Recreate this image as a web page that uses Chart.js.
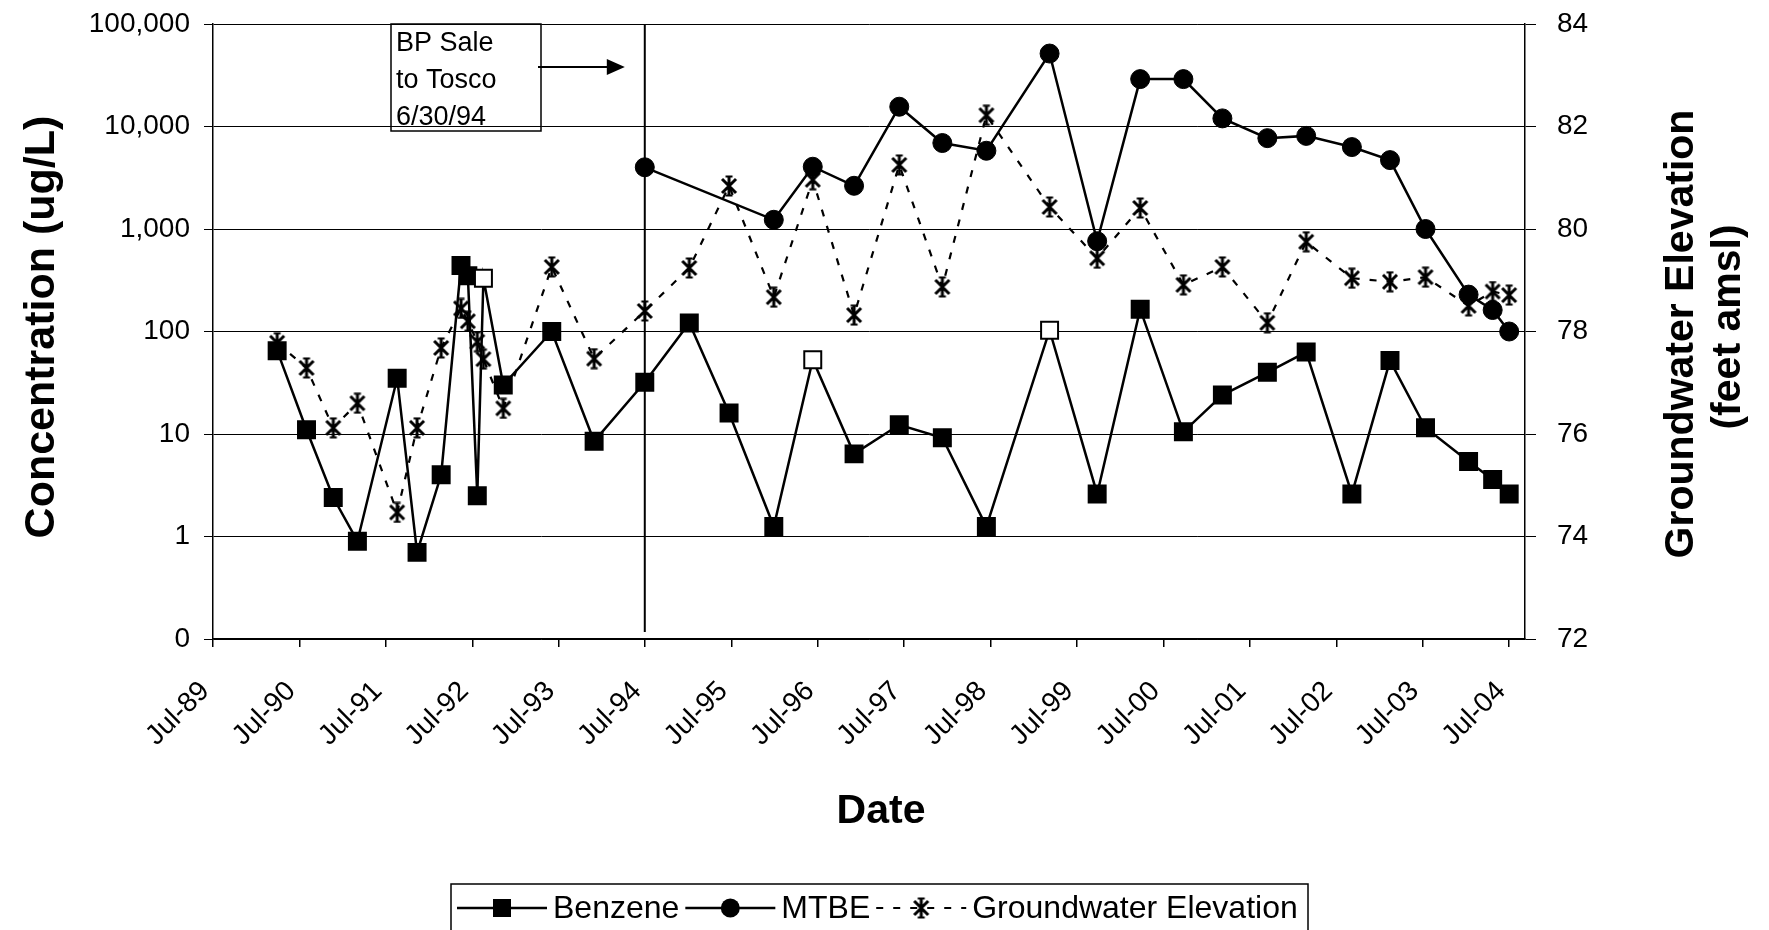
<!DOCTYPE html>
<html>
<head>
<meta charset="utf-8">
<title>Benzene, MTBE and Groundwater Elevation</title>
<script src="https://cdn.jsdelivr.net/npm/chart.js@4.4.1/dist/chart.umd.min.js"></script>
<style>
  html, body { margin: 0; padding: 0; background: #fff; }
  #wrap { width: 1769px; height: 930px; }
</style>
</head>
<body>
<div id="wrap"><canvas id="chart" width="1769" height="930"></canvas></div>
<script>
// sampling events
const sampleDates = [
    '1990-03-29', '1990-07-31', '1990-11-21', '1991-03-03', '1991-08-18', '1991-11-10',
    '1992-02-20', '1992-05-14', '1992-06-12', '1992-07-22', '1992-08-17', '1992-11-09',
    '1993-06-02', '1993-11-28', '1994-06-30', '1995-01-04', '1995-06-21', '1995-12-27',
    '1996-06-09', '1996-12-01', '1997-06-10', '1997-12-09', '1998-06-13', '1999-03-07',
    '1999-09-24', '2000-03-24', '2000-09-23', '2001-03-07', '2001-09-13', '2002-02-24',
    '2002-09-05', '2003-02-13', '2003-07-13', '2004-01-11', '2004-04-22', '2004-07-01'
];
const benzene = [
    65, 11, 2.4, 0.9, 35, 0.7, 4, 440, 350, 2.5, 330, 30,
    100, 8.5, 32, 121, 16, 1.25, 53, 6.4, 12.3, 9.2, 1.25, 103,
    2.6, 165, 10.5, 24, 40, 63, 2.6, 52, 11.5, 5.4, 3.6, 2.6
];
const benzeneHollow = [10, 18, 23]; // open squares
const mtbe = [
    null, null, null, null, null, null, null, null, null, null, null, null,
    null, null, 4000, null, null, 1230, 4050, 2640, 15600, 6900, 5800, 51500,
    760, 29000, 29000, 12000, 7700, 8100, 6300, 4700, 1000, 229, 162, 100
];
const groundwater = [
    77.78, 77.29, 76.12, 76.6, 74.47, 76.12, 77.68, 78.45, 78.2, 77.8, 77.46, 76.5,
    79.26, 77.47, 78.4, 79.24, 80.84, 78.67, 80.96, 78.32, 81.25, 78.87, 82.22, 80.43,
    79.43, 80.41, 78.91, 79.26, 78.17, 79.75, 79.04, 78.97, 79.06, 78.5, 78.78, 78.71
];

const xTickLabels = ['Jul-89', 'Jul-90', 'Jul-91', 'Jul-92', 'Jul-93', 'Jul-94', 'Jul-95', 'Jul-96',
    'Jul-97', 'Jul-98', 'Jul-99', 'Jul-00', 'Jul-01', 'Jul-02', 'Jul-03', 'Jul-04'];
const concTicks = [0.1, 1, 10, 100, 1000, 10000, 100000];
const elevTicks = [72, 74, 76, 78, 80, 82, 84];
const xStart = '1989-07-01';
const xEnd = '2004-09-06';
const saleDate = '1994-06-30';
const saleText = ['BP Sale', 'to Tosco', '6/30/94'];

const FONT = '"Liberation Sans", Arial, Helvetica, sans-serif';
const W = 1769, H = 930;
const area = {left: 213, top: 24, right: 1525, bottom: 639};
let padTop = area.top;

function toYear(s) {
    const d = new Date(s + 'T00:00:00Z');
    const y = d.getUTCFullYear();
    const a = Date.UTC(y, 0, 1), b = Date.UTC(y + 1, 0, 1);
    return y + (d - a) / (b - a);
}
function labelToYear(lbl) {
    const yy = parseInt(lbl.slice(4), 10);
    return toYear((yy > 50 ? 1900 + yy : 2000 + yy) + '-07-01');
}
function series(vals) {
    return sampleDates.map((d, i) => ({x: toYear(d), y: vals[i]})).filter(p => p.y !== null);
}

function makeStar() {
    const c = document.createElement('canvas');
    c.width = 20; c.height = 22;
    const g = c.getContext('2d');
    g.strokeStyle = '#000';
    g.lineWidth = 3;
    g.beginPath();
    g.moveTo(3, 4); g.lineTo(17, 18);
    g.moveTo(17, 4); g.lineTo(3, 18);
    g.moveTo(10, 1); g.lineTo(10, 21);
    g.stroke();
    g.lineWidth = 2;
    g.beginPath();
    g.moveTo(6.5, 1.5); g.lineTo(13.5, 1.5);
    g.moveTo(6.5, 20.5); g.lineTo(13.5, 20.5);
    g.stroke();
    return c;
}
const starImg = makeStar();

function drawMarker(ctx, type, x, y) {
    ctx.fillStyle = '#000';
    if (type === 'rect') {
        ctx.fillRect(x - 9, y - 9, 18, 18);
    } else if (type === 'circle') {
        ctx.beginPath(); ctx.arc(x, y, 9.5, 0, Math.PI * 2); ctx.fill();
    } else {
        ctx.drawImage(starImg, x - starImg.width / 2, y - starImg.height / 2);
    }
}

const decor = {
    id: 'decor',
    beforeDatasetsDraw(chart) {
        const {ctx, chartArea, scales} = chart;
        const sx = scales.x.getPixelForValue(toYear(saleDate));
        ctx.save();
        ctx.strokeStyle = '#000';
        ctx.lineWidth = 2;
        ctx.beginPath();
        ctx.moveTo(sx, chartArea.top);
        ctx.lineTo(sx, chartArea.bottom - 7);
        ctx.stroke();

        // annotation box
        const bx = chartArea.left + 178, by = chartArea.top, bw = 150, bh = 107;
        ctx.lineWidth = 1.5;
        ctx.strokeRect(bx, by, bw, bh);
        ctx.fillStyle = '#000';
        ctx.font = '27px ' + FONT;
        ctx.textAlign = 'left';
        ctx.textBaseline = 'middle';
        saleText.forEach((t, i) => ctx.fillText(t, bx + 5, by + 20 + i * 37));
        // arrow
        const ay = by + 43, tip = sx - 20;
        ctx.lineWidth = 2;
        ctx.beginPath(); ctx.moveTo(bx + bw - 3, ay); ctx.lineTo(tip - 16, ay); ctx.stroke();
        ctx.beginPath();
        ctx.moveTo(tip, ay); ctx.lineTo(tip - 18, ay - 8); ctx.lineTo(tip - 18, ay + 8);
        ctx.closePath(); ctx.fill();
        ctx.restore();
    },
    afterDraw(chart) {
        const {ctx} = chart;
        ctx.save();
        ctx.fillStyle = '#000';
        ctx.strokeStyle = '#000';
        ctx.textAlign = 'center';
        ctx.textBaseline = 'middle';

        ctx.font = 'bold 43px ' + FONT;
        ctx.save();
        ctx.translate(42, 327); ctx.rotate(-Math.PI / 2);
        ctx.fillText('Concentration (ug/L)', 0, 0);
        ctx.restore();

        ctx.font = 'bold 41px ' + FONT;
        ctx.save();
        ctx.translate(1682, 334); ctx.rotate(-Math.PI / 2);
        ctx.fillText('Groundwater Elevation', 0, 0);
        ctx.restore();
        ctx.save();
        ctx.translate(1729, 327); ctx.rotate(-Math.PI / 2);
        ctx.fillText('(feet amsl)', 0, 0);
        ctx.restore();

        ctx.fillText('Date', 881, 812);

        // legend
        ctx.lineWidth = 1.5;
        ctx.strokeRect(451, 884, 857, 60);
        ctx.font = '32px ' + FONT;
        ctx.textAlign = 'left';
        const ly = 908, lineLen = 90;
        let lx = 457;
        chart.data.datasets.forEach(ds => {
            ctx.save();
            ctx.lineWidth = ds.borderWidth;
            ctx.setLineDash(ds.borderDash || []);
            ctx.beginPath(); ctx.moveTo(lx, ly); ctx.lineTo(lx + lineLen, ly); ctx.stroke();
            ctx.restore();
            drawMarker(ctx, ds.legendMarker, lx + lineLen / 2, ly);
            lx += lineLen + 6;
            ctx.fillStyle = '#000';
            ctx.fillText(ds.label, lx, ly + 1);
            lx += ctx.measureText(ds.label).width + 6;
        });
        ctx.restore();
    }
};

// y axes: no extra label padding above/below, so the plot area keeps its size
function fitY(width) {
    return s => { s.width = width; s.paddingTop = 0; s.paddingBottom = 0; };
}

const chart = new Chart(document.getElementById('chart'), {
    type: 'line',
    data: {
        datasets: [
            {
                label: 'Benzene',
                data: series(benzene),
                yAxisID: 'y',
                borderColor: '#000',
                borderWidth: 2.5,
                pointStyle: 'rect',
                pointRadius: 12,
                pointBorderWidth: 2,
                pointBorderColor: '#000',
                pointBackgroundColor: benzene.map((v, i) => benzeneHollow.includes(i) ? '#fff' : '#000'),
                legendMarker: 'rect'
            },
            {
                label: 'MTBE',
                data: series(mtbe),
                yAxisID: 'y',
                borderColor: '#000',
                borderWidth: 2.5,
                pointStyle: 'circle',
                pointRadius: 9.5,
                pointBorderWidth: 1,
                pointBorderColor: '#000',
                pointBackgroundColor: '#000',
                legendMarker: 'circle'
            },
            {
                label: 'Groundwater Elevation',
                data: series(groundwater),
                yAxisID: 'y2',
                borderColor: '#000',
                borderWidth: 2.2,
                borderDash: [7, 10],
                pointStyle: starImg,
                legendMarker: 'star'
            }
        ]
    },
    options: {
        responsive: false,
        animation: false,
        events: [],
        layout: {padding: {top: padTop, left: 0, right: 0, bottom: 0}},
        plugins: {legend: {display: false}, tooltip: {enabled: false}},
        scales: {
            x: {
                type: 'linear',
                min: toYear(xStart),
                max: toYear(xEnd),
                afterBuildTicks: s => { s.ticks = xTickLabels.map(l => ({value: labelToYear(l)})); },
                afterFit: s => { s.height = H - area.bottom; },
                grid: {display: true, drawOnChartArea: false, drawTicks: true, tickLength: 8, color: '#000', lineWidth: 1.5},
                border: {display: true, color: '#000', width: 1.5},
                ticks: {
                    autoSkip: false, minRotation: 45, maxRotation: 45,
                    padding: 28, labelOffset: -8,
                    color: '#000', font: {family: FONT, size: 28},
                    callback: (v, i) => xTickLabels[i]
                }
            },
            y: {
                type: 'logarithmic',
                position: 'left',
                min: 0.1,
                max: 100000,
                afterBuildTicks: s => { s.ticks = concTicks.map(v => ({value: v})); },
                afterFit: fitY(area.left),
                grid: {color: '#000', lineWidth: 1, tickLength: 9},
                border: {display: true, color: '#000', width: 1.5},
                ticks: {
                    padding: 14, color: '#000', font: {family: FONT, size: 28},
                    callback: v => v < 1 ? '0' : Number(v).toLocaleString('en-US')
                }
            },
            y2: {
                type: 'linear',
                position: 'right',
                min: 72,
                max: 84,
                afterBuildTicks: s => { s.ticks = elevTicks.map(v => ({value: v})); },
                afterFit: fitY(W - area.right),
                grid: {drawOnChartArea: false, color: '#000', lineWidth: 1, tickLength: 11},
                border: {display: true, color: '#000', width: 1.5},
                ticks: {padding: 21, color: '#000', font: {family: FONT, size: 28}}
            }
        }
    },
    plugins: [decor]
});

// if the top still drifted, move it back with the layout padding
if (Math.abs(chart.chartArea.top - area.top) > 0.5) {
    padTop += area.top - chart.chartArea.top;
    chart.options.layout.padding.top = padTop;
    chart.update();
}
</script>
</body>
</html>
